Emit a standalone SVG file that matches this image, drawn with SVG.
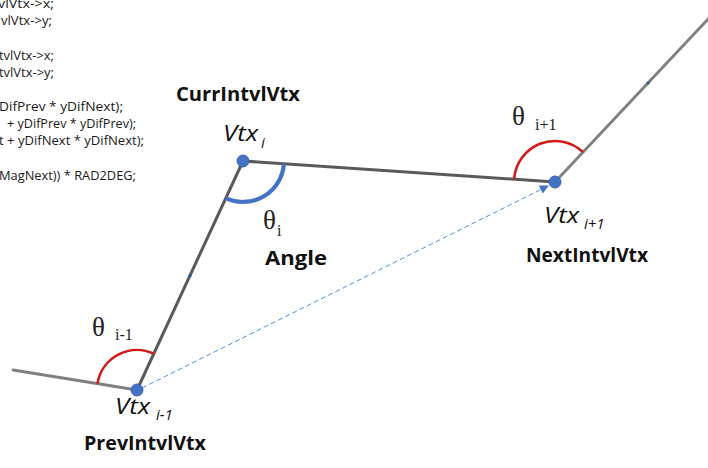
<svg xmlns="http://www.w3.org/2000/svg" width="708" height="468" viewBox="0 0 708 468">
<style>
.code{font-family:"Open Sans","Liberation Sans",sans-serif;font-size:13.5px;fill:#1a1a1a}
.name{font-family:"Open Sans","Liberation Sans",sans-serif;font-weight:bold;font-size:19.5px;fill:#111}
.vtx{font-family:"Open Sans","Liberation Sans",sans-serif;font-style:italic;font-size:22px;fill:#111}
.sub{font-family:"Open Sans","Liberation Sans",sans-serif;font-style:italic;font-size:15px;fill:#111}
.th{font-family:"Liberation Serif","Times New Roman",serif;font-size:27px;fill:#222}
.ths{font-family:"Liberation Serif","Times New Roman",serif;font-size:16px;fill:#222}
.dot{fill:#4472C4;stroke:#3a63ad;stroke-width:1}
.inner{stroke:#5a5a5a;stroke-width:3;fill:none;stroke-linecap:round}
.outer{stroke:#808080;stroke-width:2.8;fill:none;stroke-linecap:round}
.red{stroke:#d01c1c;stroke-width:2.6;fill:none}
.blue{stroke:#4472C4;stroke-width:4.2;fill:none}
.mark{fill:#2f5597}
</style>
<defs>
<marker id="ah" viewBox="0 0 10 10" refX="9" refY="5" markerWidth="9" markerHeight="9" orient="auto" markerUnits="userSpaceOnUse">
<path d="M0,0 L10,5 L0,10 z" fill="#4472C4"/>
</marker>
</defs>
<rect width="708" height="468" fill="#fff"/>
<g id="code">
<text class="code" x="-2" y="8" textLength="56" lengthAdjust="spacingAndGlyphs">vlVtx-&gt;x;</text>
<text class="code" x="1" y="25" textLength="51" lengthAdjust="spacingAndGlyphs">vlVtx-&gt;y;</text>
<text class="code" x="-1" y="60" textLength="55" lengthAdjust="spacingAndGlyphs">tvlVtx-&gt;x;</text>
<text class="code" x="-1" y="77" textLength="55" lengthAdjust="spacingAndGlyphs">tvlVtx-&gt;y;</text>
<text class="code" x="-1" y="111" textLength="124" lengthAdjust="spacingAndGlyphs">DifPrev * yDifNext);</text>
<text class="code" x="7" y="128" textLength="129" lengthAdjust="spacingAndGlyphs">+ yDifPrev * yDifPrev);</text>
<text class="code" x="-1" y="145" textLength="145" lengthAdjust="spacingAndGlyphs">t + yDifNext * yDifNext);</text>
<text class="code" x="-1" y="180" textLength="137" lengthAdjust="spacingAndGlyphs">MagNext)) * RAD2DEG;</text>
</g>
<g id="connectors">
<line class="outer" x1="13" y1="370" x2="137" y2="390"/>
<line class="inner" x1="137" y1="390" x2="243" y2="161"/>
<line class="inner" x1="243" y1="161" x2="555" y2="182"/>
<line class="outer" x1="555" y1="182" x2="741" y2="-16"/>
<line x1="142" y1="388" x2="548" y2="186" stroke="#5b8fd6" stroke-width="1" stroke-dasharray="5 3" marker-end="url(#ah)"/>
<circle class="mark" cx="190" cy="275.5" r="1.6"/>
<circle class="mark" cx="648" cy="83" r="1.6"/>
</g>
<g id="prev">
<path class="red" d="M97.5,383.6 A40,40 0 0 1 153.8,353.7"/>
<circle class="dot" cx="137" cy="390" r="6"/>
<text class="th" x="92" y="336">θ</text>
<text class="ths" x="115" y="340">i-1</text>
<text class="vtx" x="115" y="414" textLength="35" lengthAdjust="spacingAndGlyphs">Vtx</text>
<text class="sub" x="156" y="420">i-1</text>
<text class="name" x="84" y="450" textLength="122" lengthAdjust="spacingAndGlyphs">PrevIntvlVtx</text>
</g>
<g id="curr">
<path class="blue" d="M225.8,198.2 A41,41 0 0 0 283.9,163.8"/>
<circle class="dot" cx="243" cy="161" r="6"/>
<text class="name" x="176" y="101" textLength="124" lengthAdjust="spacingAndGlyphs">CurrIntvlVtx</text>
<text class="vtx" x="223" y="141" textLength="35" lengthAdjust="spacingAndGlyphs">Vtx</text>
<text class="sub" x="261" y="148">i</text>
<text class="th" x="263" y="229">θ</text>
<text class="ths" x="277" y="236">i</text>
<text class="name" x="265" y="265" font-size="21.5" textLength="62" lengthAdjust="spacingAndGlyphs">Angle</text>
</g>
<g id="next">
<path class="red" d="M514.1,179.2 A41,41 0 0 1 583,152"/>
<circle class="dot" cx="555" cy="182" r="6"/>
<text class="th" x="512" y="125">θ</text>
<text class="ths" x="535" y="130">i+1</text>
<text class="vtx" x="544" y="223" textLength="35" lengthAdjust="spacingAndGlyphs">Vtx</text>
<text class="sub" x="584" y="229">i+1</text>
<text class="name" x="526" y="262" textLength="122" lengthAdjust="spacingAndGlyphs">NextIntvlVtx</text>
</g>
</svg>
